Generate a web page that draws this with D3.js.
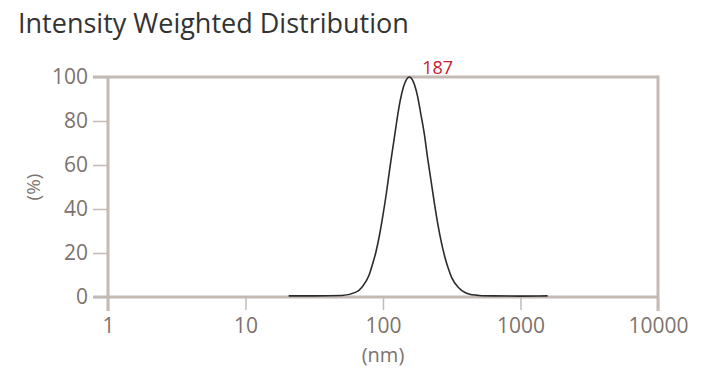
<!DOCTYPE html>
<html>
<head>
<meta charset="utf-8">
<script src="https://cdn.jsdelivr.net/npm/d3@7"></script>
<style>
  html, body { margin: 0; padding: 0; background: #fff; }
  svg { display: block; }
  text { font-family: "Open Sans", "Noto Sans", sans-serif; }
</style>
</head>
<body>
<svg id="chart" width="706" height="380"></svg>
<script>
// ---- data ----
const titleText = "Intensity Weighted Distribution";
const xTicks = [1, 10, 100, 1000, 10000];
const xTickLabels = ["1", "10", "100", "1000", "10000"];
const yTicks = [0, 20, 40, 60, 80, 100];
const yTickLabels = ["0", "20", "40", "60", "80", "100"];
const xAxisLabel = "(nm)";
const yAxisLabel = "(%)";
const sizesNm = [20.6, 31.6, 50.1, 63.1, 70.8, 79.4, 84.1, 89.1, 94.4, 100, 106, 112, 119, 126, 133, 141, 148, 155,
                 166, 178, 188, 200, 211, 224, 237, 251, 266, 282, 299, 316, 355, 398, 447, 501, 631, 1000, 1574];
const intensity = [0.5, 0.5, 0.7, 2.1, 4.7, 10.1, 15.1, 20.8, 28.3, 37.3, 47.5, 58.4, 69.5, 80.0, 88.9, 95.6, 98.8, 100,
                   97.9, 91.5, 83.5, 73.9, 63.2, 52.5, 42.2, 32.8, 24.7, 18.1, 12.8, 8.8, 4.2, 1.9, 1.0, 0.7, 0.5, 0.4, 0.5];
const peakSize = 155;
const peakValue = 100;
const peakLabel = "187";

// ---- layout ----
const svg = d3.select("#chart");
const frameColor = "#c4bab4";
const tickTextColor = "#7d726d";

const x = d3.scaleLog().domain([1, 10000]).range([108, 658]);
const y = d3.scaleLinear().domain([0, 100]).range([297, 77]);

// title
svg.append("text")
  .attr("x", 18).attr("y", 33)
  .attr("fill", "#333333")
  .style("font-size", "27px")
  .text(titleText);

// y axis ticks (thin), using d3 axis
const yAxis = d3.axisLeft(y).tickValues(yTicks).tickFormat((d, i) => yTickLabels[i]).tickSize(15).tickPadding(5);
const gy = svg.append("g").attr("transform", "translate(108,0)").call(yAxis);
gy.select(".domain").remove();
gy.selectAll(".tick line").attr("stroke", frameColor).attr("stroke-width", 1.5);
gy.selectAll(".tick text").attr("fill", tickTextColor).style("font-size", "21px").style("font-family", "'Open Sans', sans-serif");

// x axis ticks (thin)
const xAxis = d3.axisBottom(x).tickValues(xTicks).tickFormat((d, i) => xTickLabels[i]).tickSize(13).tickPadding(8);
const gx = svg.append("g").attr("transform", "translate(0,297)").call(xAxis);
gx.select(".domain").remove();
gx.selectAll(".tick line").attr("stroke", frameColor).attr("stroke-width", 1.5);
gx.selectAll(".tick text").attr("fill", tickTextColor).style("font-size", "21px").style("font-family", "'Open Sans', sans-serif");

// frame (thick lines)
const frame = svg.append("g").attr("stroke", frameColor).attr("stroke-width", 3).attr("fill", "none");
frame.append("line").attr("x1", 93).attr("x2", x(10000)).attr("y1", y(100)).attr("y2", y(100));
frame.append("line").attr("x1", 93).attr("x2", x(10000)).attr("y1", y(0)).attr("y2", y(0));
frame.append("line").attr("x1", x(1)).attr("x2", x(1)).attr("y1", y(100)).attr("y2", y(0) + 14);
frame.append("line").attr("x1", x(10000)).attr("x2", x(10000)).attr("y1", y(100) - 1.5).attr("y2", y(0) + 14);

// axis labels
svg.append("text")
  .attr("x", x(100)).attr("y", 362)
  .attr("text-anchor", "middle")
  .attr("fill", tickTextColor)
  .style("font-size", "20px")
  .text(xAxisLabel);
svg.append("text")
  .attr("transform", "translate(40," + y(50) + ") rotate(-90)")
  .attr("text-anchor", "middle")
  .attr("fill", tickTextColor)
  .style("font-size", "19px")
  .text(yAxisLabel);

// curve
const data = sizesNm.map((s, i) => ({ s: s, v: intensity[i] }));
const line = d3.line().x(d => x(d.s)).y(d => y(d.v)).curve(d3.curveMonotoneX);
svg.append("path")
  .datum(data)
  .attr("d", line)
  .attr("fill", "none")
  .attr("stroke", "#2b2b2b")
  .attr("stroke-width", 1.6);

// peak label
svg.append("text")
  .attr("x", x(peakSize) + 13).attr("y", y(peakValue) - 3)
  .attr("fill", "#c8202f")
  .style("font-size", "18px")
  .text(peakLabel);
</script>
</body>
</html>
